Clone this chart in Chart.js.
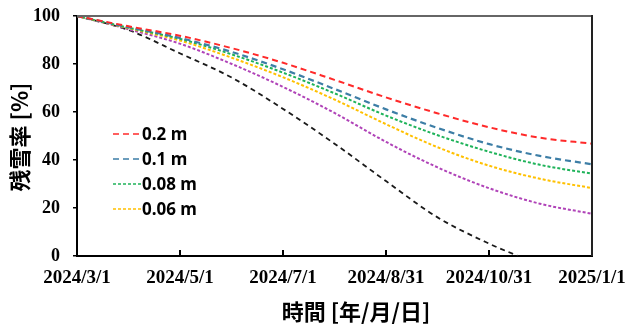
<!DOCTYPE html>
<html>
<head>
<meta charset="utf-8">
<script src="https://cdn.jsdelivr.net/npm/chart.js@4/dist/chart.umd.min.js"></script>
<style>
  html, body { margin: 0; padding: 0; background: #fff; }
  #wrap { width: 627px; height: 324px; }
</style>
</head>
<body>
<div id="wrap"><canvas id="c" width="627" height="324"></canvas></div>
<script>
// Days elapsed since 2024/3/1
const days = [0, 30, 61, 92, 122, 153, 184, 214, 245, 275, 306];
const blackDays = [0, 30, 61, 92, 122, 153, 184, 214, 245, 262];

// Remaining snow ratio [%]
const snow02 = [100, 95.8, 91.8, 86.6, 80.6, 73.4, 66.0, 59.5, 53.6, 49.3, 46.8];
const snow01 = [100, 95.4, 90.9, 85.0, 77.9, 69.6, 61.0, 53.4, 46.6, 41.7, 38.2];
const snow008 = [100, 95.2, 90.5, 84.0, 76.5, 67.8, 58.4, 50.4, 43.4, 38.0, 34.3];
const snow006 = [100, 95.0, 89.8, 82.6, 74.6, 65.2, 54.8, 45.4, 37.6, 32.2, 28.3];
const snowPurple = [100, 94.6, 88.5, 80.0, 70.6, 59.6, 47.4, 37.0, 28.2, 21.8, 17.6];
const snowBlack = [100, 94.3, 84.5, 74.3, 61.5, 46.8, 31.0, 16.2, 5.1, 0];

// X axis ticks (day offsets) and their date labels
const tickDays = [0, 61.2, 122.4, 183.6, 244.8, 306];
const tickLabels = ['2024/3/1', '2024/5/1', '2024/7/1', '2024/8/31', '2024/10/31', '2025/1/1'];

const legendNames = ['0.2 m', '0.1 m', '0.08 m', '0.06 m'];

const pts = (xs, ys) => xs.map((x, i) => ({ x, y: ys[i] }));

function series(label, xs, ys, color, dash, width) {
  return {
    label, data: pts(xs, ys), borderColor: color, backgroundColor: color,
    borderDash: dash, borderWidth: width, pointRadius: 0, fill: false,
    cubicInterpolationMode: 'monotone'
  };
}

const datasets = [
  series(legendNames[0], days, snow02, '#ff2a2a', [6, 4], 2),
  series(legendNames[1], days, snow01, '#3d7ea6', [6, 4], 2.2),
  series(legendNames[2], days, snow008, '#1fb35a', [3, 2], 2),
  series(legendNames[3], days, snow006, '#ffc000', [3, 2], 2),
  series('', days, snowPurple, '#b043b8', [3, 2], 2),
  series('', blackDays, snowBlack, '#1a1a1a', [5, 4], 1.8)
];

// Box frame, inner x ticks, in-plot legend and axis titles
const decor = {
  id: 'decor',
  afterDatasetsDraw(chart) {
    const { ctx, chartArea: a, scales } = chart;
    ctx.save();
    // top & right frame
    ctx.lineWidth = 2;
    ctx.strokeStyle = '#666';
    ctx.beginPath(); ctx.moveTo(a.left, a.top); ctx.lineTo(a.right, a.top); ctx.stroke();
    ctx.strokeStyle = '#222';
    ctx.beginPath(); ctx.moveTo(a.right, a.top - 1); ctx.lineTo(a.right, a.bottom); ctx.stroke();
    // inward x ticks
    ctx.strokeStyle = '#000';
    ctx.lineWidth = 2;
    tickDays.slice(1, -1).forEach(d => {
      const px = Math.round(scales.x.getPixelForValue(d));
      ctx.beginPath(); ctx.moveTo(px, a.bottom); ctx.lineTo(px, a.bottom - 6); ctx.stroke();
    });
    // legend
    ctx.font = 'bold 17px "Noto Sans", "Liberation Sans", sans-serif';
    ctx.textBaseline = 'middle';
    ctx.textAlign = 'left';
    legendNames.forEach((name, i) => {
      const ds = chart.data.datasets[i];
      const y = 134 + i * 25;
      ctx.setLineDash(ds.borderDash);
      ctx.strokeStyle = ds.borderColor;
      ctx.lineWidth = 1.6;
      ctx.beginPath(); ctx.moveTo(113, y); ctx.lineTo(141, y); ctx.stroke();
      ctx.setLineDash([]);
      ctx.fillStyle = '#000';
      ctx.fillText(name, 142, y + 1);
    });
    // axis titles
    ctx.fillStyle = '#000';
    ctx.font = 'bold 22px "Noto Sans CJK JP", sans-serif';
    ctx.textAlign = 'center';
    ctx.fillText('時間 [年/月/日]', 356, 312);
    ctx.translate(20, 137);
    ctx.rotate(-Math.PI / 2);
    ctx.fillText('残雪率 [%]', 0, 0);
    ctx.restore();
  }
};

new Chart(document.getElementById('c'), {
  type: 'line',
  data: { datasets },
  options: {
    responsive: false,
    animation: false,
    layout: { padding: 0 },
    plugins: { legend: { display: false }, tooltip: { enabled: false } },
    scales: {
      x: {
        type: 'linear',
        min: 0, max: 306,
        afterBuildTicks: s => { s.ticks = tickDays.map(v => ({ value: v })); },
        afterFit: s => { s.height = 68; s.paddingLeft = 0; s.paddingRight = 35; },
        ticks: {
          autoSkip: false, maxRotation: 0, padding: 11, color: '#000',
          font: { family: '"Liberation Serif", serif', size: 19, weight: 'bold' },
          callback: (v, i) => tickLabels[i]
        },
        grid: { display: false, drawTicks: false },
        border: { display: true, color: '#000', width: 2 }
      },
      y: {
        min: 0, max: 100,
        ticks: {
          stepSize: 20, padding: 13, color: '#000',
          font: { family: '"Liberation Serif", serif', size: 18, weight: 'bold' }
        },
        afterFit: s => { s.width = 77; s.paddingTop = 16; s.paddingBottom = 0; },
        grid: { display: true, drawOnChartArea: false, drawTicks: true, tickLength: 4, color: '#000', lineWidth: 1.5 },
        border: { display: true, color: '#000', width: 2 }
      }
    }
  },
  plugins: [decor]
});
</script>
</body>
</html>
